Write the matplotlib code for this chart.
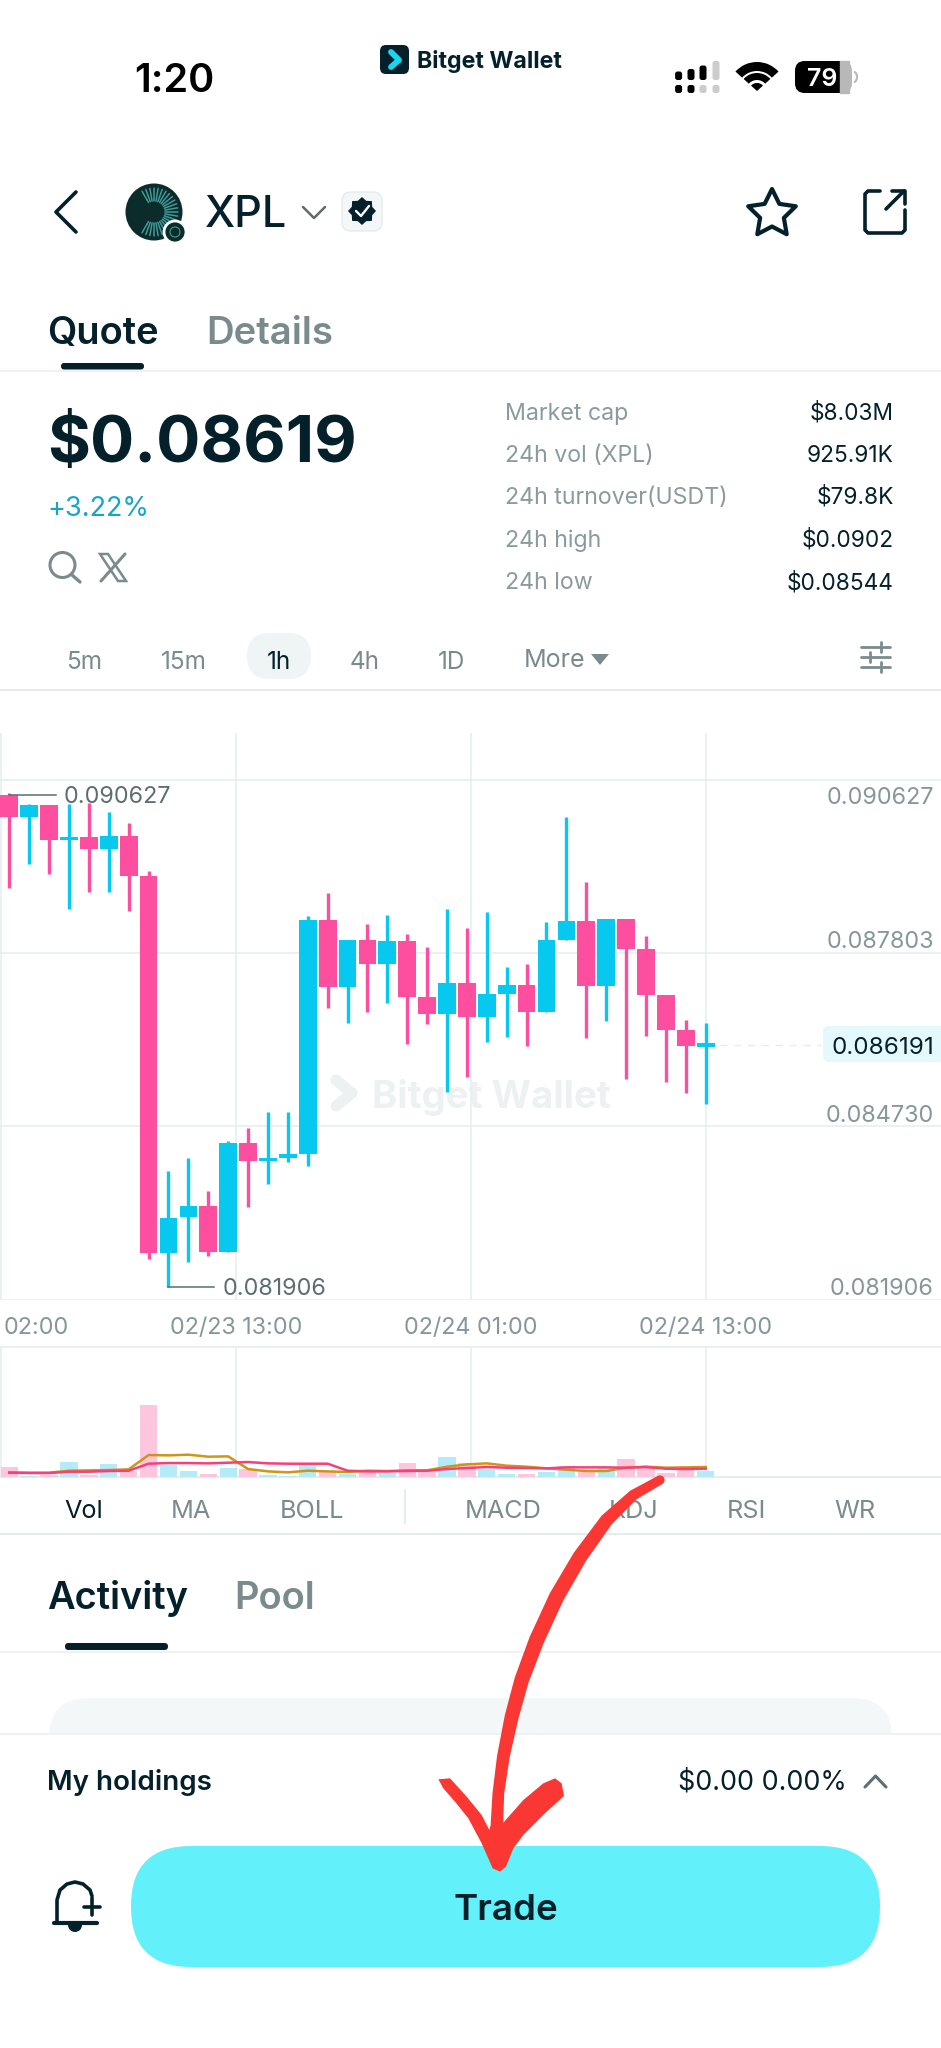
import numpy as np
import matplotlib
matplotlib.use("Agg")
import matplotlib.pyplot as plt
from matplotlib.patches import Circle, FancyBboxPatch, Polygon, Wedge, Arc

plt.rcParams["font.family"] = ["Inter", "DejaVu Sans"]

# Candles
highs = [.090652, .090462, .090437, .090469, .090481, .090323, .090121, .089279, .083950,
         .084191, .083608, .084495, .084722, .085007, .085007, .088475, .088887, .088045,
         .088342, .088488, .088152, .087918, .088602, .088266, .088545, .087564, .087621,
         .088368, .090228, .089070, .088425, .088425, .088115, .087083, .086640, .086577]
lows = [.088975, .089393, .089216, .088595, .088906, .088906, .088570, .082393, .081906,
        .082343, .082457, .082514, .083324, .083735, .084108, .084039, .086842, .086577,
        .086779, .086937, .086203, .086570, .085355, .085615, .086241, .086330, .086172,
        .086779, .088045, .086317, .086621, .085589, .086349, .085532, .085336, .085153]
opens = [.090627, .090228, .090437, .089830, .089874, .089659, .089893, .089184, .082495,
         .083134, .083330, .082514, .084457, .084140, .084191, .084267, .088406, .087210,
         .088045, .087627, .088032, .087032, .086741, .087292, .086678, .087102, .087247,
         .086779, .088045, .088387, .087229, .088425, .087893, .087083, .086450, .086153]
closes = [.090228, .090437, .089823, .089868, .089659, .089893, .089184, .082495, .083127,
          .083330, .082514, .084457, .084140, .084184, .084267, .088406, .087210, .088045,
          .087627, .088032, .087032, .086741, .087292, .086678, .087096, .087247, .086779,
          .088045, .088387, .087229, .088425, .087893, .087083, .086456, .086172, .086229]

# Volume panel, arbitrary units as the panel has no scale
volumes = [30, 2, 6, 43, 6, 39, 18, 214, 35, 17, 8, 25, 22, 6, 1, 35, 15, 8,
           20, 12, 40, 20, 60, 40, 23, 9, 8, 13, 31, 15, 30, 53, 30, 12, 20, 17]
ma_gold = [13, 12, 12, 18, 19, 20, 22, 65, 64, 66, 60, 61, 23, 16, 13, 18, 16, 14,
           18, 17, 19, 19, 30, 37, 40, 33, 30, 25, 21, 17, 17, 27, 30, 27, 28, 29]
ma_pink = [12, 11, 11, 15, 15, 17, 18, 39, 41, 41, 40, 42, 44, 40, 39, 39, 39, 18,
           16, 16, 17, 18, 23, 26, 29, 27, 26, 25, 28, 28, 28, 27, 29, 24, 23, 24]

price_grid = [.090893, .087823, .084750, .081678]
price_labels = ["0.090627", "0.087803", "0.084730", "0.081906"]
price_label_base = [803.6, 948.2, 1121.8, 1295.4]
time_grid = [-0.42, 11.38, 23.19, 35]
time_labels = ["02/23 13:00", "02/24 01:00", "02/24 13:00"]
high_price, low_price, last_price = 0.090627, 0.081906, 0.086191

stat_names = ["Market cap", "24h vol (XPL)", "24h turnover(USDT)", "24h high", "24h low"]
stat_values = ["$8.03M", "925.91K", "$79.8K", "$0.0902", "$0.08544"]
stat_base = [420, 462, 504, 546.5, 589]
periods = ["5m", "15m", "1h", "4h", "1D"]
period_x = [84, 184, 279, 365, 452]
indicators = ["Vol", "MA", "BOLL", "MACD", "KDJ", "RSI", "WR"]
indicator_x = [84, 191, 312, 503, 634, 746, 855]

DARK = "#03202b"
GREY = "#7a8b8d"
AXIS = "#85979a"
LINE = "#e6ecec"
PINK = "#fe4e9f"
CYAN = "#07c8ee"
RED = "#fb3733"
W, H = 941, 2048
STEP, X0 = 19.895, 9.33  # one candle every 19.895 px, first one at x=9.33

fig = plt.figure(figsize=(W / 100, H / 100), dpi=100, facecolor="white")


def px_axes(zorder):
    ax = fig.add_axes([0, 0, 1, 1], zorder=zorder)
    ax.set_xlim(0, W)
    ax.set_ylim(H, 0)
    ax.axis("off")
    ax.patch.set_alpha(0)
    return ax


def chart_axes(top, bottom):
    ax = fig.add_axes([0, 1 - bottom / H, 1, (bottom - top) / H], zorder=2)
    ax.patch.set_alpha(0)
    for s in ax.spines.values():
        s.set_visible(False)
    ax.tick_params(length=0, labelbottom=False, labelleft=False)
    ax.set_xlim(-X0 / STEP, (W - X0) / STEP)
    ax.set_xticks(time_grid)
    ax.grid(True, axis="x", color=LINE, lw=1.1)
    ax.set_axisbelow(True)
    return ax


bg = px_axes(1)
fg = px_axes(3)


def txt(x, y, s, size, color=DARK, weight="normal", ha="left", ax=fg, **kw):
    return ax.text(x, y, s, fontsize=size, color=color, fontweight=weight, ha=ha, va="baseline", **kw)


def rbox(x0, y0, x1, y1, r, fc, ec="none", lw=0, ax=bg, z=1):
    p = FancyBboxPatch((x0 + r, y0 + r), x1 - x0 - 2 * r, y1 - y0 - 2 * r,
                       boxstyle="round,pad=%f,rounding_size=%f" % (r, r), fc=fc, ec=ec, lw=lw, zorder=z)
    ax.add_patch(p)
    return p


def hline(y, x0=0, x1=W, color=LINE, lw=1.4, ax=bg):
    ax.plot([x0, x1], [y, y], color=color, lw=lw, solid_capstyle="butt")


def stroke(xs, ys, color=DARK, lw=2.4, ax=fg, z=3):
    ax.plot(xs, ys, color=color, lw=lw, solid_capstyle="round", solid_joinstyle="round", zorder=z)


# Status bar
txt(134, 92, "1:20", 28.5, "black", "semibold")
rbox(380, 45, 409, 74, 6, DARK)
stroke([391, 399, 391], [52, 60, 67], "#13d8ef", 4.2, ax=bg)
txt(417, 68.3, "Bitget Wallet", 16.7, DARK, "bold")
sig_x = [678.6, 691, 703, 716]
sig_top = [71.5, 69, 65.5, 61]
sig_col = ["black", "black", "black", "#cccccc"]
for i in range(4):
    rbox(sig_x[i] - 3.5, sig_top[i], sig_x[i] + 3.5, 80, 2.5, sig_col[i])
    rbox(sig_x[i] - 3.5, 85, sig_x[i] + 3.5, 93, 2.5, "black" if i < 2 else "#cccccc")
for r0, r1 in [(20, 27), (11, 16)]:
    bg.add_patch(Wedge((757, 91), r1 + 2, 222, 318, width=r1 - r0 + 2, fc="black"))
bg.add_patch(Wedge((757, 91), 8, 222, 318, fc="black"))
rbox(795, 61, 852, 93, 10, "#b8b8b8")
rbox(795, 61, 848, 93, 10, "black")
bg.fill([840, 849, 849, 840], [61, 61, 93, 93], color="#b8b8b8", zorder=2)
bg.add_patch(Arc((854, 77), 6, 10, theta1=-90, theta2=90, color="#b8b8b8", lw=1.5))
txt(822, 86, "79", 18, "white", "semibold", ha="center")

# Header
stroke([76, 56, 76], [192, 212, 232], DARK, 2.6)
bg.add_patch(Circle((154, 212), 28.5, fc="#0c2b2b"))
for a in np.radians(np.arange(-120, 121, 10)):
    stroke([154 + 11 * np.cos(a), 154 + 24 * np.cos(a)], [212 + 11 * np.sin(a), 212 + 24 * np.sin(a)],
           "#3f9a98", 1.1, ax=bg)
bg.add_patch(Circle((175, 232), 11, fc="#0c2b2b", ec="white", lw=2, zorder=4))
bg.add_patch(Circle((175, 232), 5, fc="none", ec="#3f9a98", lw=0.8, zorder=5))
txt(205, 227, "XPL", 31, DARK, "medium")
stroke([303, 314, 325], [207, 218, 207], "#5f6b6e", 1.8)
rbox(342, 192, 382, 231, 9, "#f3f7f8", ec="#e6ecee", lw=1)
star8 = np.linspace(0, 2 * np.pi, 17)[:-1]
bg.add_patch(Polygon(np.c_[362 + (12.5 + 1.5 * np.cos(8 * star8)) * np.cos(star8),
                           211 + (12.5 + 1.5 * np.cos(8 * star8)) * np.sin(star8)], fc=DARK, zorder=3))
stroke([356, 361, 369], [211, 216, 206], "white", 1.7)
star_a = np.radians(np.arange(-90, 270, 36))
star_r = np.array([25, 12.5] * 5)
fg.add_patch(Polygon(np.c_[772 + star_r * np.cos(star_a), 214 + star_r * np.sin(star_a)], fc="none", ec=DARK,
                     lw=3, joinstyle="round"))
stroke([880, 868, 865, 865, 868, 902, 905, 905], [191, 191, 194, 230, 233, 233, 230, 210], DARK, 2.6)
stroke([886, 904], [209, 191], DARK, 2.6)
stroke([892, 905, 905], [191, 191, 204], DARK, 2.6)

# Quote / Details tabs
txt(47, 344, "Quote", 27.4, DARK, "semibold")
txt(206, 344, "Details", 27.6, GREY, "semibold")
rbox(61, 363, 144, 369.5, 3, DARK)
hline(370.5, color="#eef2f2")

# Price block
txt(47, 462, "$0.08619", 47.3, DARK, "bold")
txt(47, 516, "+3.22%", 19.5, "#16a5c2")
bg.add_patch(Circle((62.5, 565), 12.5, fc="none", ec=GREY, lw=2.2))
stroke([72, 80], [575, 582], GREY, 2.4)
bg.add_patch(Polygon([[100, 554], [108, 554], [126, 581], [118, 581]], fc="none", ec=GREY, lw=1.8))
stroke([125, 101], [554, 581], GREY, 2.2)
for name, value, y in zip(stat_names, stat_values, stat_base):
    txt(505, y, name, 16.7, "#8b9b9d")
    txt(894, y, value, 16.3, DARK, ha="right")

# Period selector
rbox(247, 633, 311, 679, 23, "#eff4f4")
for name, x in zip(periods, period_x):
    txt(x, 669, name, 17.5, DARK if name == "1h" else GREY, ha="center")
txt(524, 667, "More", 18, GREY)
fg.add_patch(Polygon([[591, 654], [609, 654], [600, 665]], fc=GREY))
for y, tx in [(647, 881), (657, 870), (667, 881)]:
    stroke([861, 890], [y, y], GREY, 2)
    stroke([tx, tx], [y - 5, y + 5], GREY, 2)
hline(690, lw=1.5)

# Watermark under the candles
stroke([336, 352, 336], [1080, 1093, 1106], "#edf1f2", 8, ax=bg)
txt(372, 1108, "Bitget Wallet", 27.5, "#edf1f2", "bold", ax=bg)

# Main candle chart
ax = chart_axes(733, 1299.6)
# price 0.090627 sits at y=794.6 and 0.081906 at y=1286.8
ax.set_ylim(0.081678, 0.091719)
ax.set_yticks(price_grid)
ax.grid(True, axis="y", color=LINE, lw=1.1)
idx = np.arange(len(opens))
o, c = np.array(opens), np.array(closes)
cols = [CYAN if c[i] >= o[i] else PINK for i in idx]
ax.vlines(idx, lows, highs, colors=cols, lw=2.4, capstyle="butt", zorder=3)
ax.bar(idx, np.abs(c - o), bottom=np.minimum(o, c), width=0.89, color=cols, zorder=3)
ax.plot([0, 2.35], [high_price, high_price], color="#5c6e70", lw=1.1, zorder=4)
ax.plot([8, 10.3], [low_price, low_price], color="#5c6e70", lw=1.1, zorder=4)
ax.plot([35, 40.8], [last_price, last_price], color=LINE, lw=1, dashes=(5, 5), zorder=2)

txt(63.3, 802.9, "%.6f" % high_price, 16.8, "#5c6e70")
txt(222.7, 1295, "%.6f" % low_price, 16.8, "#5c6e70")
for lab, y in zip(price_labels, price_label_base):
    txt(934, y, lab, 16.8, AXIS, ha="right")
rbox(823, 1026, 960, 1062, 6, "#e4f9fc", ax=fg, z=1)
txt(934, 1053.6, "%.6f" % last_price, 17.4, DARK, ha="right", zorder=4)
txt(4, 1334, "02:00", 16.8, AXIS)
for lab, t in zip(time_labels, time_grid[1:]):
    txt(t * STEP + X0, 1334, lab, 16.8, AXIS, ha="center")

# Volume panel
vax = chart_axes(1346.7, 1476.7)
vax.set_ylim(0, 390)
vol_cols = ["#b5ebf8" if c[i] >= o[i] else "#fdc6de" for i in idx]
vax.bar(idx, volumes, width=0.87, color=vol_cols, zorder=2)
vax.plot(idx, ma_gold, color="#cf9516", lw=1.8, zorder=3)
vax.plot(idx, ma_pink, color="#f73f78", lw=1.8, zorder=4)
hline(1346.7, lw=1.2)
hline(1477, lw=1.4)

for name, x in zip(indicators, indicator_x):
    txt(x, 1518.3, name, 18.2, DARK if name == "Vol" else GREY, ha="center")
stroke([405, 405], [1490, 1523], LINE, 1.5, ax=bg)
hline(1534, lw=1.4)

# Activity tabs
txt(47, 1609, "Activity", 27.4, DARK, "semibold")
txt(234, 1609, "Pool", 27.4, GREY, "semibold")
rbox(65, 1643, 168, 1650, 3.5, DARK)
hline(1651.5, color="#eef2f2")
rbox(49, 1698, 892, 1790, 40, "#f4f7f8")
bg.fill([0, W, W, 0], [1734, 1734, H, H], color="white", zorder=2)
hline(1734, color="#eef2f2", lw=1.4, ax=fg)

# Bottom bar
txt(47, 1789.5, "My holdings", 20, DARK, "semibold")
txt(847, 1790, "$0.00 0.00%", 19.4, DARK, ha="right")
stroke([865, 875.5, 886], [1787, 1776, 1787], "#5f7072", 2.2)
rbox(131, 1846, 880, 1967, 60, "#62f0fa", z=3)
txt(506, 1920, "Trade", 26.4, DARK, "semibold", ha="center")
# bell
stroke([57, 57, 60, 67, 75, 83, 90, 92], [1922, 1900, 1890, 1884, 1882, 1884, 1890, 1896], DARK, 2.6)
stroke([54, 97], [1923, 1923], DARK, 3)
fg.add_patch(Wedge((75, 1925), 7, 0, 180, fc=DARK))
stroke([92, 92], [1898, 1915], DARK, 2.6)
stroke([84, 100], [1906.5, 1906.5], DARK, 2.6)

# Red hand drawn arrow, outline traced in the zoomed crop (x/3+400, y/3+1450)
shaft_x = np.array([780, 700, 620, 540, 470, 410, 365, 335, 310, 295, 290])
shaft_y = np.array([90, 135, 210, 320, 440, 570, 690, 800, 920, 1030, 1140])
shaft_w = np.array([28, 32, 40, 44, 46, 46, 44, 42, 38, 35, 38])
dx, dy = np.gradient(shaft_x.astype(float)), np.gradient(shaft_y.astype(float))
n = np.hypot(dx, dy)
left = np.c_[shaft_x - dy / n * shaft_w / 2, shaft_y + dx / n * shaft_w / 2]
right = np.c_[shaft_x + dy / n * shaft_w / 2, shaft_y - dx / n * shaft_w / 2]
shaft = np.vstack([left, right[::-1]])
head = np.array([[115, 988], [150, 985], [200, 1040], [245, 1095], [268, 1140], [270, 1130], [310, 1118],
                 [370, 1050], [430, 1000], [465, 985], [485, 1000], [492, 1038], [440, 1085], [370, 1155],
                 [340, 1195], [318, 1250], [300, 1265], [278, 1255], [245, 1180], [205, 1105], [165, 1055],
                 [130, 1015]], dtype=float)
for pts in (shaft, head):
    fg.add_patch(Polygon(pts / 3 + [400, 1450], fc=RED, ec="none", zorder=6))
fg.add_patch(Circle((780 / 3 + 400, 90 / 3 + 1450), 4.6, fc=RED, zorder=6))

fig.savefig("out.png", dpi=100)
